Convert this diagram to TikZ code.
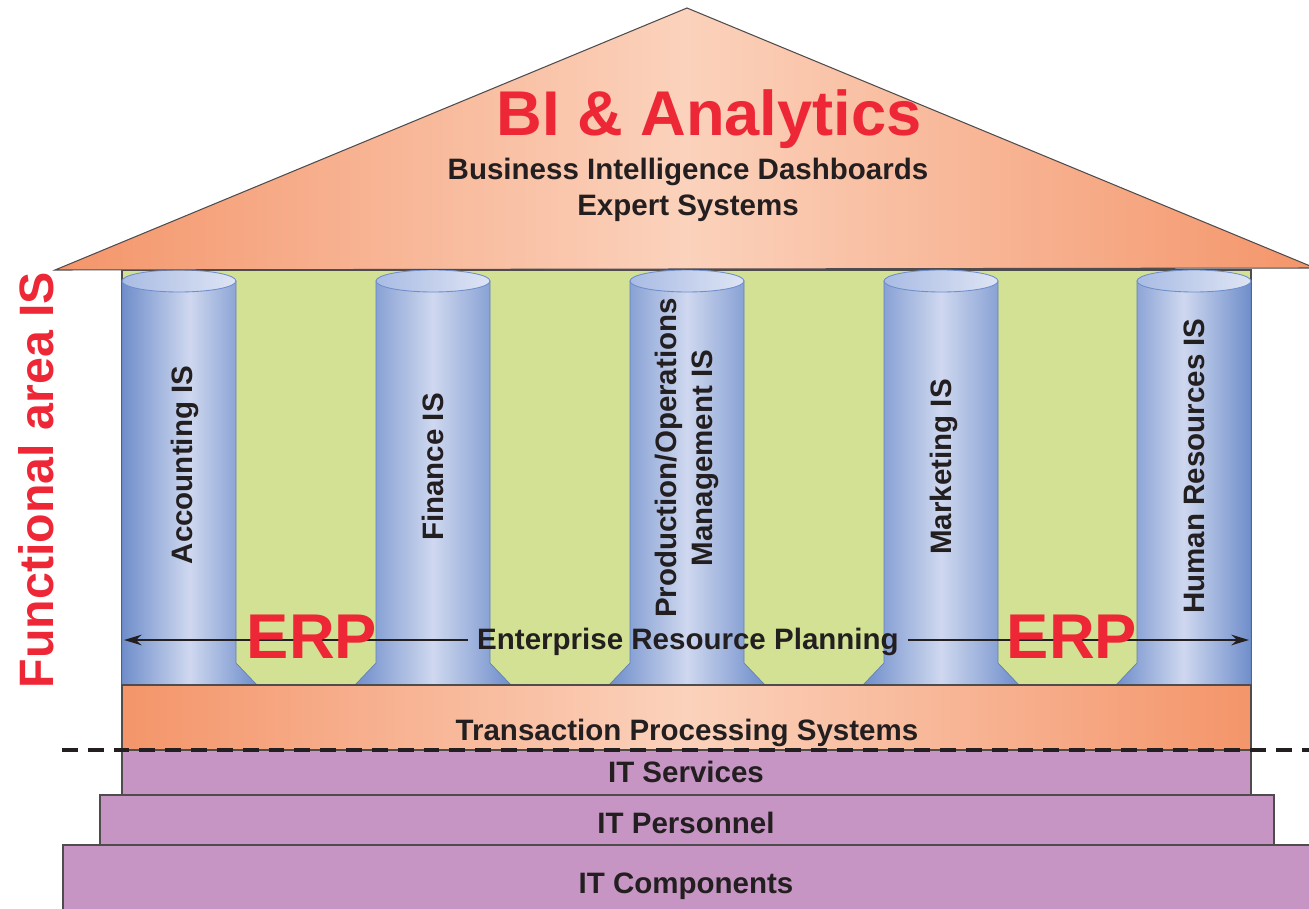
\documentclass[tikz,border=0pt]{standalone}
\usepackage{fontspec}
\setmainfont{Liberation Sans}
\usetikzlibrary{arrows.meta}
\definecolor{roofdark}{HTML}{F4956A}
\definecolor{rooflight}{HTML}{FBD2BC}
\definecolor{pillardark}{HTML}{6F8ECB}
\definecolor{pillarlight}{HTML}{CFD8EF}
\definecolor{pillartop}{HTML}{A9BCE4}
\definecolor{wallgreen}{HTML}{D3E194}
\definecolor{itpurple}{HTML}{C795C4}
\definecolor{erpred}{HTML}{EE2737}
\definecolor{inkgray}{HTML}{231F20}
\begin{document}
\begin{tikzpicture}[x=0.02cm,y=-0.02cm,
    edgeline/.style={draw=inkgray!80, line width=0.6pt},
    textlbl/.style={font=\fontsize{16.8}{20.4}\selectfont\bfseries, text=inkgray, inner sep=0pt},
    redbig/.style={font=\fontsize{36}{40}\selectfont\bfseries, text=erpred, inner sep=0pt},
    pillarlbl/.style={textlbl, rotate=90, align=center},
    itbox/.style={fill=itpurple, edgeline}]
    \clip (0,0) rectangle (1309,909);
    % wall behind the pillars
    \filldraw[fill=wallgreen, edgeline] (122,270) rectangle (1251,685);
    % pillars: left edge / left flare / right flare
    \foreach \x/\fl/\fr in {122/0/21, 376/21/21, 630/21/21, 884/21/21, 1137/21/0} {
        \shadedraw[left color=pillardark, right color=pillardark, middle color=pillarlight, draw=pillardark!90!black, line width=0.4pt]
            (\x,281) -- (\x,663) -- (\x-\fl,685) -- (\x+114+\fr,685) -- (\x+114,663) -- (\x+114,281) -- cycle;
        \shadedraw[left color=pillartop, right color=pillarlight!70!white, draw=pillardark, line width=0.5pt]
            (\x+57,281) ellipse [x radius=57, y radius=11];
    }
    % transaction processing band
    \shadedraw[left color=roofdark, right color=roofdark, middle color=rooflight, edgeline] (122,685) rectangle (1251,750);
    % IT foundation
    \filldraw[itbox] (122,750) rectangle (1251,795);
    \filldraw[itbox] (100,795) rectangle (1274,845);
    \filldraw[itbox] (63,845) rectangle (1315,915);
    % roof
    \shadedraw[left color=roofdark, right color=roofdark, middle color=rooflight, edgeline]
        (55,270) -- (687,8) -- (1315,268) -- cycle;
    % dashed separator
    \coordinate (dashL) at (62,750);
    \coordinate (dashR) at (1309,750);
    \draw[inkgray, line width=2.8pt, dash pattern=on 9pt off 5.7pt] (dashL) -- (dashR);

    \node[redbig, anchor=base] (bi) at (709,135) {BI \& Analytics};
    \node[textlbl, anchor=base] (bid) at (688,179) {Business Intelligence Dashboards};
    \node[textlbl, anchor=base] (exp) at (688,215) {Expert Systems};

    \node[pillarlbl, anchor=base] (acc) at (192,465) {Accounting IS};
    \node[pillarlbl, anchor=base] (fin) at (443,467) {Finance IS};
    \node[pillarlbl] (pom) at (687,458) {Production/Operations\\Management IS};
    \node[pillarlbl, anchor=base] (mkt) at (951,467) {Marketing IS};
    \node[pillarlbl, anchor=base] (hr) at (1204,466) {Human Resources IS};

    \node[textlbl, anchor=base, inner xsep=5pt] (erp) at (688,649) {Enterprise Resource Planning};
    \coordinate (erpW) at (124,640);
    \coordinate (erpE) at (1249,640);
    \draw[inkgray, line width=1.3pt, -{Stealth[length=10pt,width=6pt]}] (erp.west |- erpW) -- (erpW);
    \draw[inkgray, line width=1.3pt, -{Stealth[length=10pt,width=6pt]}] (erp.east |- erpE) -- (erpE);
    \node[redbig, anchor=base] (erpl) at (312,658) {ERP};
    \node[redbig, anchor=base] (erpr) at (1072,658) {ERP};

    \node[textlbl, anchor=base] (tps) at (687,740) {Transaction Processing Systems};
    \node[textlbl, anchor=base] (its) at (686,782) {IT Services};
    \node[textlbl, anchor=base] (itp) at (686,833) {IT Personnel};
    \node[textlbl, anchor=base] (itc) at (686,893) {IT Components};

    \node[redbig, font=\fontsize{27.5}{30}\selectfont\bfseries, rotate=90, anchor=base] (fis) at (53,480) {Functional area IS};
\end{tikzpicture}
\end{document}
